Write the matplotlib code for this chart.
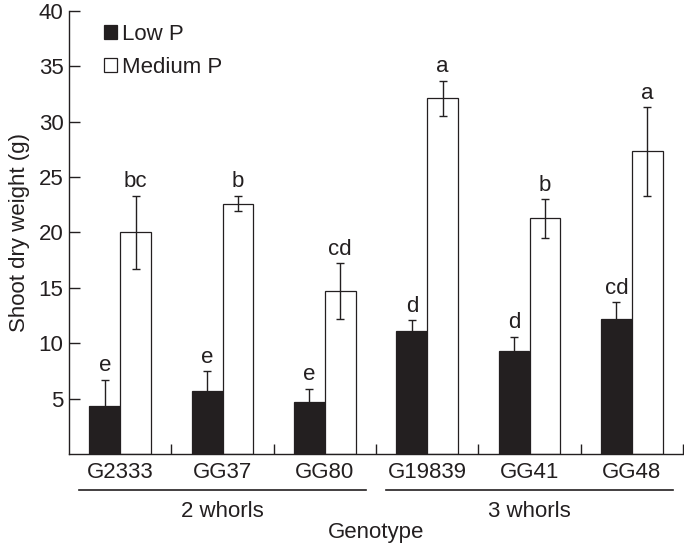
import matplotlib
matplotlib.use("Agg")
import matplotlib.pyplot as plt
import matplotlib.transforms as mtransforms
import numpy as np

plt.rcParams['font.family'] = ['Liberation Sans', 'DejaVu Sans']

# Data
genotypes = ["G2333", "GG37", "GG80", "G19839", "GG41", "GG48"]
groups = ["2 whorls", "3 whorls"]
group_sizes = [3, 3]
low_p = [4.35, 5.65, 4.7, 11.1, 9.3, 12.2]
low_p_err = [2.35, 1.85, 1.2, 1.0, 1.3, 1.5]
med_p = [20.0, 22.6, 14.7, 32.1, 21.25, 27.3]
med_p_err = [3.3, 0.7, 2.5, 1.6, 1.75, 4.0]
low_letters = ["e", "e", "e", "d", "d", "cd"]
med_letters = ["bc", "b", "cd", "a", "b", "a"]

fig = plt.figure(figsize=(6.84, 5.43), dpi=100)
ax = fig.add_axes([69 / 684, 1 - 454 / 543, 614 / 684, (454 - 10.7) / 543])

x = np.arange(len(genotypes)) + 0.5
w = 0.3
fs = 16
ink = "#231f20"

ax.bar(x - w / 2, low_p, w, color=ink, edgecolor=ink, linewidth=0.9,
       label="Low P", zorder=2)
ax.bar(x + w / 2, med_p, w, color="white", edgecolor=ink, linewidth=0.9,
       label="Medium P", zorder=2)
ax.errorbar(x - w / 2, low_p, yerr=low_p_err, fmt="none", ecolor=ink,
            elinewidth=1.0, capsize=3, capthick=1.0, zorder=1)
ax.errorbar(x + w / 2, med_p, yerr=med_p_err, fmt="none", ecolor=ink,
            elinewidth=1.0, capsize=3, capthick=1.0, zorder=3)

for xi, v, e, t in zip(x - w / 2, low_p, low_p_err, low_letters):
    ax.text(xi, v + e + 0.3, t, ha="center", va="bottom", fontsize=fs, color=ink)
for xi, v, e, t in zip(x + w / 2, med_p, med_p_err, med_letters):
    ax.text(xi, v + e + 0.3, t, ha="center", va="bottom", fontsize=fs, color=ink)

ax.set_xlim(0, len(genotypes))
ax.set_ylim(0, 40)
ax.set_yticks([5, 10, 15, 20, 25, 30, 35, 40])
ax.tick_params(axis="y", direction="in", length=8, width=1, labelsize=fs, pad=4,
               color=ink, labelcolor=ink)
ax.set_xticks(x)
ax.set_xticklabels(genotypes)
ax.tick_params(axis="x", which="major", length=0, labelsize=fs, pad=6, labelcolor=ink)
ax.set_xticks(np.arange(1, len(genotypes) + 1), minor=True)
ax.tick_params(axis="x", which="minor", direction="in", length=7, width=1, color=ink)
for s in ["top", "right"]:
    ax.spines[s].set_visible(False)
for s in ["left", "bottom"]:
    ax.spines[s].set_linewidth(1)
    ax.spines[s].set_color(ink)
ax.set_ylabel("Shoot dry weight (g)", fontsize=fs, labelpad=6, color=ink)

# group underlines and labels
trans = mtransforms.blended_transform_factory(ax.transData, ax.transAxes)
start = 0
for name, n in zip(groups, group_sizes):
    ax.plot([start + 0.1, start + n - 0.1], [-0.081, -0.081], color=ink,
            lw=1.2, transform=trans, clip_on=False)
    ax.text(start + n / 2, -0.1415, name, ha="center", va="baseline", fontsize=fs,
            transform=trans, color=ink)
    start += n
ax.text(3, -0.19, "Genotype", ha="center", va="baseline", fontsize=fs,
        transform=trans, color=ink)

ax.legend(loc="upper left", bbox_to_anchor=(0.024, 1.016), frameon=False, fontsize=fs,
          handlelength=0.6, handleheight=0.6, handletextpad=0.2, labelspacing=0.55,
          labelcolor=ink)

fig.savefig("out.png", dpi=100)
